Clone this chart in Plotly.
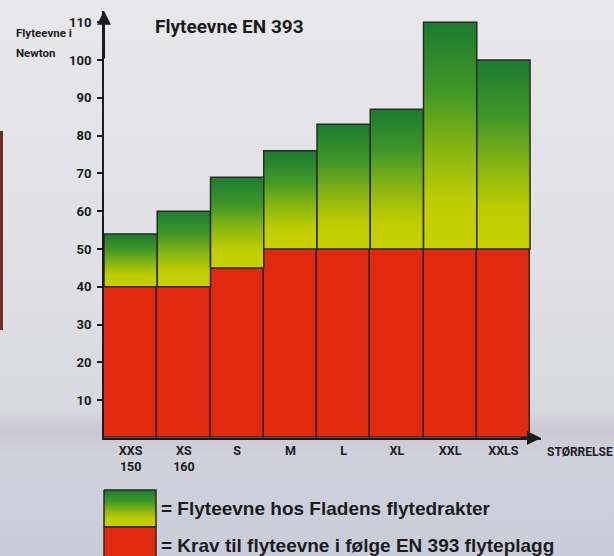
import plotly.graph_objects as go

# ---- data ----
sizes = ["XXS", "XS", "S", "M", "L", "XL", "XXL", "XXLS"]
size_sub = ["150", "160", "", "", "", "", "", ""]
total_buoyancy = [54, 60, 69, 76, 83, 87, 110, 100]      # Flyteevne hos Fladens flytedrakter
required_buoyancy = [40, 40, 45, 50, 50, 50, 50, 50]     # Krav til flyteevne i følge EN 393
y_ticks = [10, 20, 30, 40, 50, 60, 70, 80, 90, 100, 110]

title_text = "Flyteevne EN 393"
y_title_lines = ["Flyteevne i", "Newton"]
x_title = "STØRRELSE"
legend_green = "= Flyteevne hos Fladens flytedrakter"
legend_red = "= Krav til flyteevne i følge EN 393 flyteplagg"

# ---- styles ----
W, H = 614, 556
NARROW = "Roboto, Liberation Sans Narrow, Arial Narrow, sans-serif"
SANS = "Liberation Sans, Arial, Helvetica, sans-serif"
INK = "#1c1c1e"
RED = "#e0290f"
OUTLINE = "#2a2a22"
green_scale = [[0.0, "#c8d100"], [0.22, "#bccc02"], [0.45, "#86b412"],
               [0.7, "#3f9727"], [1.0, "#1d7a32"]]
bg_scale = [[0.0, "#e8e8eb"], [0.45, "#e0e0e5"], [0.74, "#d8d8e0"],
            [0.77, "#cbc7d3"], [0.82, "#d0d1db"], [1.0, "#c9ccd8"]]

fig = go.Figure()

# background (pixel-coordinate helper axes x / y)
fig.add_trace(go.Scatter(
    x=[0, W, W, 0, 0], y=[0, 0, H, H, 0], mode="lines", line=dict(width=0),
    fill="toself", fillgradient=dict(type="vertical", colorscale=bg_scale, start=0, stop=H),
    hoverinfo="skip", showlegend=False, xaxis="x", yaxis="y"))

# legend swatches (pixel coords)
fig.add_trace(go.Scatter(
    x=[104, 156, 156, 104, 104], y=[490, 490, 527, 527, 490], mode="lines",
    line=dict(color=OUTLINE, width=1.5), fill="toself",
    fillgradient=dict(type="vertical", start=490, stop=527,
                      colorscale=[[1 - p, c] for p, c in reversed(green_scale)]),
    hoverinfo="skip", showlegend=False, xaxis="x", yaxis="y"))
fig.add_trace(go.Scatter(
    x=[104, 156, 156, 104, 104], y=[527, 527, 560, 560, 527], mode="lines",
    line=dict(color=OUTLINE, width=1.5), fill="toself", fillcolor=RED,
    hoverinfo="skip", showlegend=False, xaxis="x", yaxis="y"))

# requirement bars (red)
xs = list(range(len(sizes)))
fig.add_trace(go.Bar(
    x=xs, y=required_buoyancy, width=1,
    marker=dict(color=RED, line=dict(color=OUTLINE, width=1.5)),
    showlegend=False, hoverinfo="skip", xaxis="x2", yaxis="y2"))

# buoyancy above requirement (gradient)
for i, (req, tot) in enumerate(zip(required_buoyancy, total_buoyancy)):
    fig.add_trace(go.Scatter(
        x=[i - 0.5, i + 0.5, i + 0.5, i - 0.5, i - 0.5],
        y=[req, req, tot, tot, req], mode="lines",
        line=dict(color=OUTLINE, width=1.5), fill="toself",
        fillgradient=dict(type="vertical", colorscale=green_scale, start=req, stop=tot),
        hoverinfo="skip", showlegend=False, xaxis="x2", yaxis="y2"))

ticktext = [f"{s}<br>{n}" if n else s for s, n in zip(sizes, size_sub)]

px_per_unit = 3.78
y0_px = 438
y_top = 113
fig.update_layout(
    width=W, height=H, margin=dict(l=0, r=0, t=0, b=0),
    paper_bgcolor="#e3e3e7", plot_bgcolor="rgba(0,0,0,0)",
    xaxis=dict(domain=[0, 1], range=[0, W], visible=False, fixedrange=True),
    yaxis=dict(domain=[0, 1], range=[H, 0], visible=False, fixedrange=True),
    xaxis2=dict(domain=[104 / W, 541 / W], range=[-0.5, 7.706], anchor="y2",
                showline=True, linecolor=INK, linewidth=2, showgrid=False, zeroline=False,
                tickvals=xs, ticktext=ticktext, ticks="",
                tickfont=dict(family=NARROW, size=12.5, color=INK, weight="bold")),
    yaxis2=dict(domain=[(H - y0_px) / H, (H - (y0_px - y_top * px_per_unit)) / H],
                range=[0, y_top], anchor="x2",
                showline=True, linecolor=INK, linewidth=2, showgrid=False, zeroline=False,
                tickvals=y_ticks, ticks="outside", ticklen=5, tickwidth=1.5, tickcolor=INK,
                ticklabelstandoff=3,
                tickfont=dict(family=NARROW, size=13, color=INK, weight="bold")),
    bargap=0,
)

# axis arrows
fig.add_annotation(x=-0.5, y=y_top, ax=-0.5, ay=100, xref="x2", yref="y2",
                   axref="x2", ayref="y2", showarrow=True, arrowhead=2,
                   arrowsize=1.4, arrowwidth=2, arrowcolor=INK, text="")
fig.add_annotation(x=7.706, y=0, ax=7.3, ay=0, xref="x2", yref="y2",
                   axref="x2", ayref="y2", showarrow=True, arrowhead=2,
                   arrowsize=1.4, arrowwidth=2, arrowcolor=INK, text="")

# texts (pixel coords)
fig.add_annotation(x=153, y=26, xref="x", yref="y", text=title_text,
                   showarrow=False, xanchor="left", yanchor="middle",
                   font=dict(family=NARROW, size=19, color=INK, weight="bold"))
for k, line in enumerate(y_title_lines):
    fig.add_annotation(x=14, y=33 + 20 * k, xref="x", yref="y", text=line,
                       showarrow=False, xanchor="left", yanchor="middle", align="left",
                       font=dict(family=NARROW, size=11.5, color=INK, weight="bold"))
fig.add_annotation(x=545, y=452, xref="x", yref="y", text=x_title,
                   showarrow=False, xanchor="left", yanchor="middle",
                   font=dict(family=NARROW, size=12, color=INK, weight="bold"))
fig.add_annotation(x=159, y=508, xref="x", yref="y", text=legend_green,
                   showarrow=False, xanchor="left", yanchor="middle",
                   font=dict(family=SANS, size=19, color=INK, weight="bold"))
fig.add_annotation(x=159, y=545, xref="x", yref="y", text=legend_red,
                   showarrow=False, xanchor="left", yanchor="middle",
                   font=dict(family=SANS, size=19, color=INK, weight="bold"))

# dark strip at the left edge of the photo
fig.add_shape(type="rect", xref="x", yref="y", x0=0, x1=3, y0=131, y1=330,
              line=dict(width=0), fillcolor="#6a2f25", layer="above")

fig.write_html("out.html", config={"displayModeBar": False},
               post_script="document.body.style.margin='0';document.body.style.overflow='hidden';")
